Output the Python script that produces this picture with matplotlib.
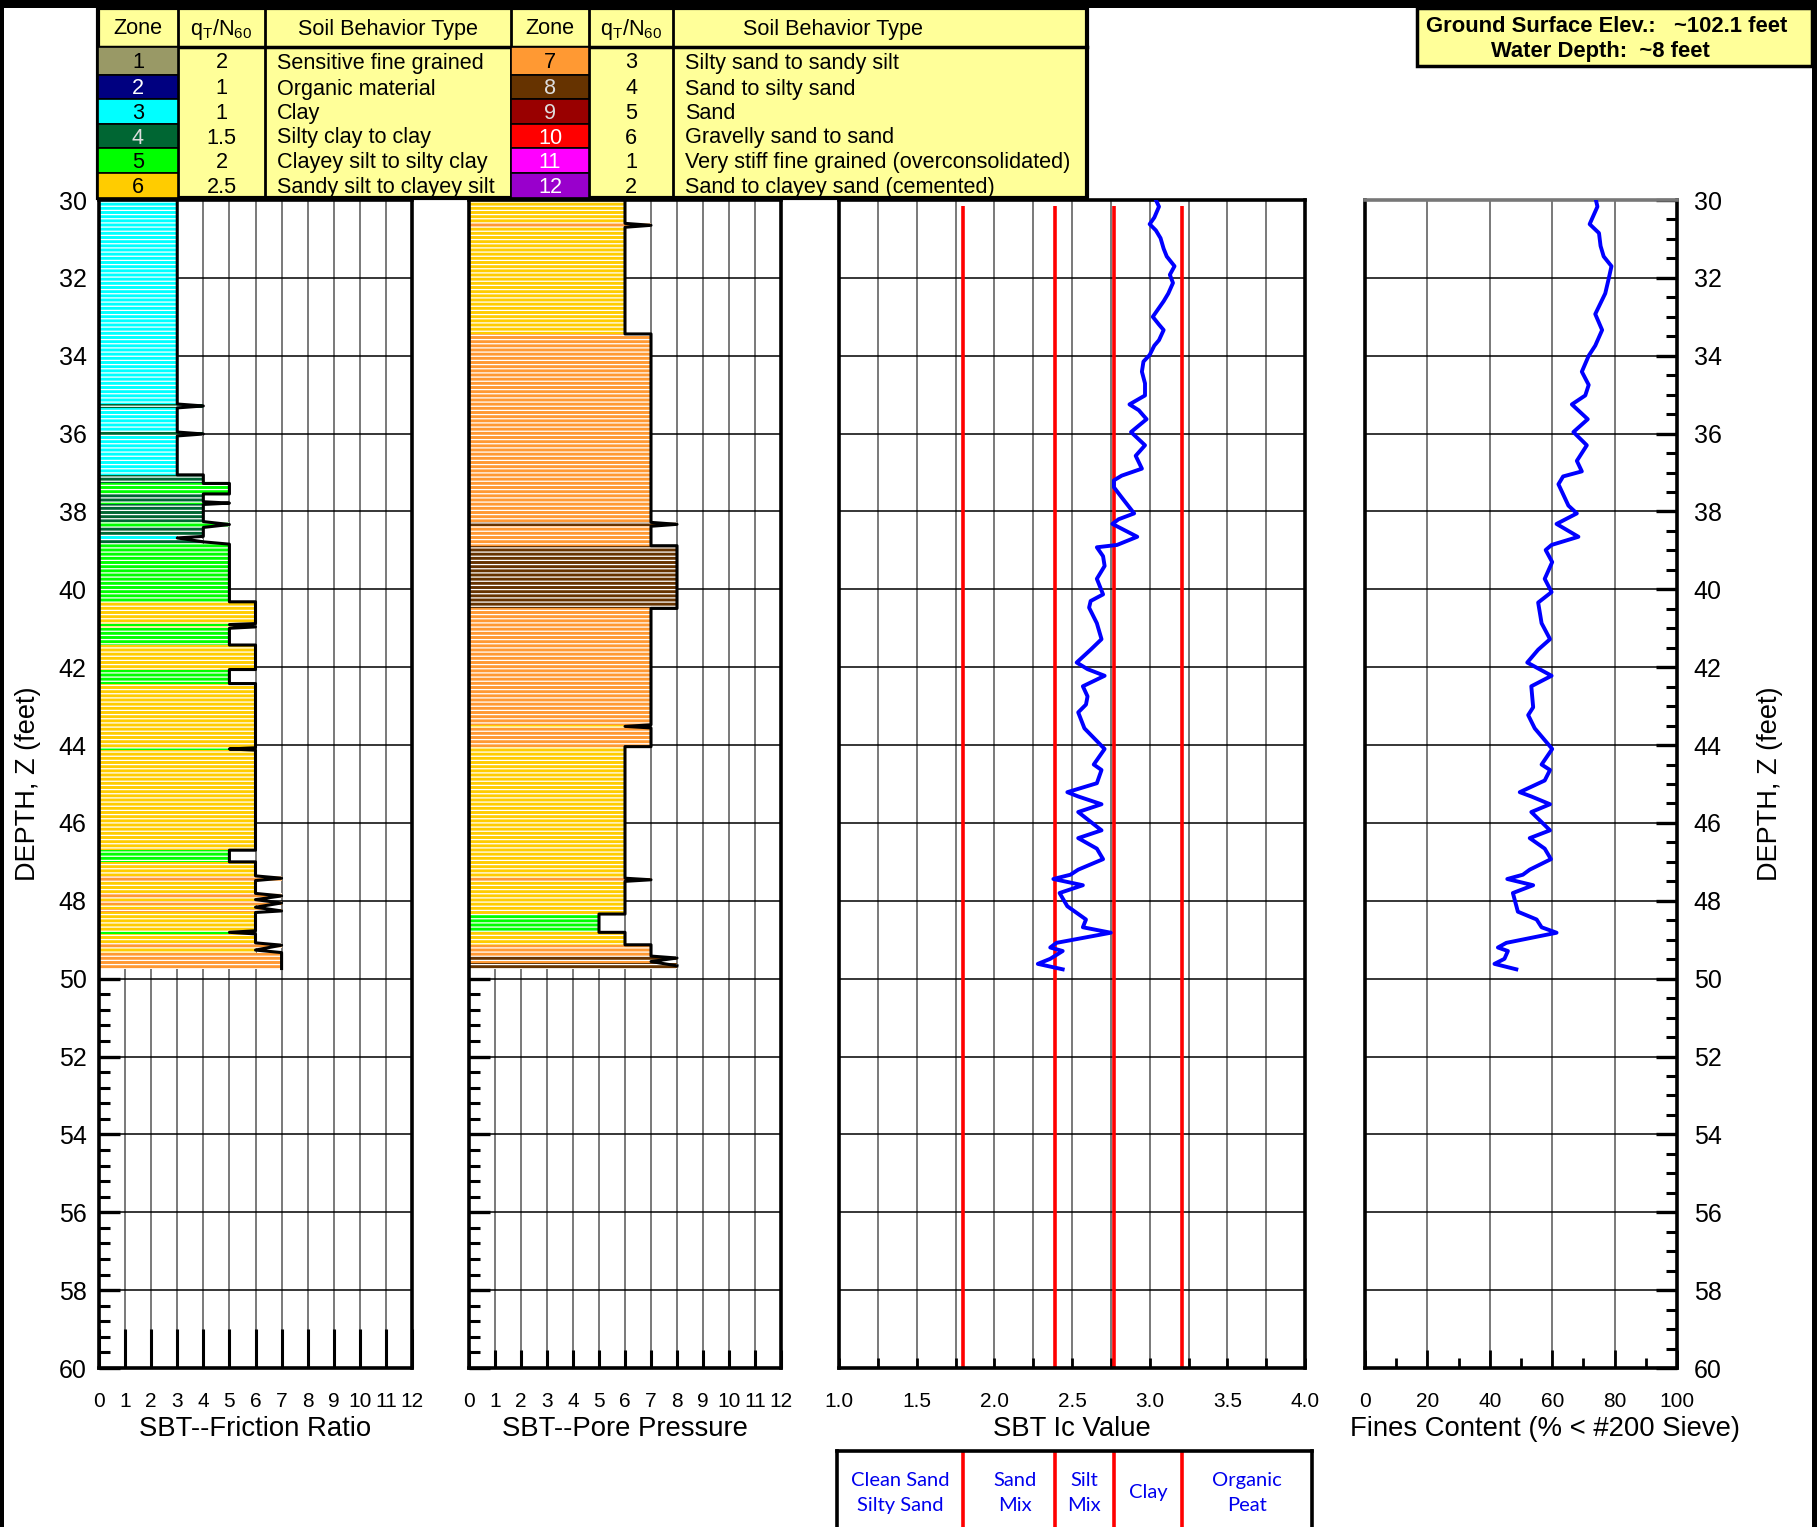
import numpy as np
import matplotlib
matplotlib.use('Agg')
import matplotlib.pyplot as plt
from matplotlib.patches import Rectangle
from matplotlib.ticker import MultipleLocator

plt.rcParams['font.family'] = ['Liberation Sans', 'DejaVu Sans']
plt.rcParams['hatch.linewidth'] = 0.9
plt.rcParams['hatch.color'] = 'white'

W, H = 1817, 1527

# SBT zone legend
zone_colors = {1: '#999966', 2: '#000080', 3: '#00FFFF', 4: '#006633',
               5: '#00FF00', 6: '#FFCC00', 7: '#FF9933', 8: '#663300',
               9: '#990000', 10: '#FF0000', 11: '#FF00FF', 12: '#9900CC'}
zone_text_colors = {1: 'black', 2: 'white', 3: 'black', 4: '#dddddd',
                    5: 'black', 6: 'black', 7: 'black', 8: '#dddddd',
                    9: '#dddddd', 10: 'white', 11: 'white', 12: 'white'}
zones_left = [1, 2, 3, 4, 5, 6]
qn_left = ['2', '1', '1', '1.5', '2', '2.5']
sbt_left = ['Sensitive fine grained', 'Organic material', 'Clay',
            'Silty clay to clay', 'Clayey silt to silty clay',
            'Sandy silt to clayey silt']
zones_right = [7, 8, 9, 10, 11, 12]
qn_right = ['3', '4', '5', '6', '1', '2']
sbt_right = ['Silty sand to sandy silt', 'Sand to silty sand', 'Sand',
             'Gravelly sand to sand', 'Very stiff fine grained (overconsolidated)',
             'Sand to clayey sand (cemented)']

# SBT from friction ratio: layer tops (ft) and zone
fr_tops = [30.0, 35.24, 35.34, 35.96, 36.06, 37.06, 37.28, 37.55, 37.75, 37.82,
           38.26, 38.41, 38.64, 38.72, 38.84, 40.32, 40.88, 40.93, 41.0, 41.43,
           42.06, 42.42, 44.07, 44.13, 46.70, 47.0, 47.36, 47.48, 47.81, 47.94,
           48.0, 48.11, 48.22, 48.30, 48.77, 48.85, 49.08, 49.20, 49.33]
fr_zones = [3, 4, 3, 4, 3, 4, 5, 4, 5, 4,
            5, 4, 3, 4, 5, 6, 5, 6, 5, 6,
            5, 6, 5, 6, 5, 6, 7, 6, 7, 6,
            7, 6, 7, 6, 5, 6, 7, 6, 7]
fr_base = 49.74

# SBT from pore pressure: layer tops (ft) and zone
pp_tops = [30.0, 30.6, 30.7, 33.44, 38.28, 38.38, 38.88, 40.49, 43.48, 43.56,
           44.04, 47.42, 47.50, 48.34, 48.81, 49.13, 49.42, 49.52, 49.60]
pp_zones = [6, 7, 6, 7, 8, 7, 8, 7, 6, 7,
            6, 7, 6, 5, 6, 7, 8, 7, 8]
pp_base = 49.74

# SBT Ic profile
ic_depth = [30.00, 30.17, 30.45, 30.62, 30.78, 30.98, 31.25, 31.45, 31.70, 31.92,
            32.13, 32.40, 32.60, 33.00, 33.20, 33.34, 33.60, 33.74, 33.98, 34.15,
            34.41, 34.71, 35.02, 35.25, 35.40, 35.63, 35.96, 36.30, 36.57, 36.90,
            37.08, 37.20, 37.38, 37.64, 38.05, 38.20, 38.32, 38.65, 38.86, 38.92,
            39.15, 39.40, 39.73, 40.13, 40.30, 40.47, 40.87, 41.28, 41.55, 41.88,
            42.05, 42.22, 42.49, 42.75, 42.96, 43.16, 43.57, 44.10, 44.50, 44.64,
            44.98, 45.21, 45.32, 45.52, 45.72, 46.19, 46.39, 46.66, 46.93, 47.20,
            47.33, 47.44, 47.60, 47.80, 48.14, 48.48, 48.68, 48.82, 49.08, 49.20,
            49.29, 49.49, 49.62, 49.76]
ic_value = [3.04, 3.06, 3.03, 3.00, 3.04, 3.07, 3.09, 3.11, 3.16, 3.13,
            3.15, 3.12, 3.09, 3.02, 3.06, 3.09, 3.06, 3.03, 3.00, 2.96,
            2.95, 2.97, 2.97, 2.87, 2.93, 2.98, 2.88, 2.97, 2.91, 2.95,
            2.82, 2.77, 2.77, 2.82, 2.90, 2.80, 2.76, 2.92, 2.79, 2.66,
            2.70, 2.71, 2.66, 2.70, 2.62, 2.61, 2.66, 2.69, 2.62, 2.53,
            2.60, 2.71, 2.57, 2.60, 2.59, 2.54, 2.58, 2.71, 2.64, 2.69,
            2.66, 2.47, 2.54, 2.69, 2.54, 2.69, 2.54, 2.66, 2.70, 2.54,
            2.49, 2.38, 2.57, 2.42, 2.47, 2.59, 2.57, 2.75, 2.40, 2.36,
            2.44, 2.36, 2.28, 2.44]

# Fines content profile
fc_depth = [30.00, 30.17, 30.62, 30.85, 31.18, 31.45, 31.70, 32.06, 32.40, 32.93,
            33.34, 33.74, 34.00, 34.41, 34.75, 35.02, 35.25, 35.63, 35.96, 36.30,
            36.70, 36.97, 37.10, 37.30, 37.85, 38.05, 38.32, 38.65, 38.86, 38.99,
            39.30, 39.73, 40.07, 40.34, 40.87, 41.28, 41.55, 41.88, 42.22, 42.49,
            43.03, 43.23, 43.57, 44.10, 44.50, 44.64, 44.91, 45.21, 45.32, 45.52,
            45.72, 46.19, 46.39, 46.66, 46.93, 47.20, 47.33, 47.44, 47.60, 47.80,
            48.28, 48.48, 48.68, 48.82, 49.08, 49.20, 49.29, 49.49, 49.62, 49.76]
fc_value = [74.0, 74.5, 72.0, 75.0, 75.5, 76.5, 79.0, 78.0, 77.0, 73.8,
            76.0, 73.8, 71.7, 69.5, 71.7, 70.6, 66.3, 71.4, 66.8, 71.1,
            67.9, 69.5, 63.5, 62.0, 65.2, 67.9, 61.4, 68.4, 59.8, 57.9,
            60.0, 57.6, 59.8, 55.5, 56.6, 59.3, 55.5, 52.0, 59.8, 53.3,
            53.9, 52.3, 54.4, 60.0, 56.6, 59.3, 57.6, 49.6, 53.3, 59.3,
            53.3, 59.3, 52.8, 57.6, 59.6, 52.8, 50.6, 45.6, 53.9, 47.4,
            49.0, 55.0, 56.6, 61.4, 45.3, 42.6, 45.8, 44.7, 41.5, 48.5]

# Ic class boundaries
ic_bounds = [1.80, 2.39, 2.77, 3.21]
ic_classes = ['Clean Sand\nSilty Sand', 'Sand\nMix', 'Silt\nMix', 'Clay', 'Organic\nPeat']

depth_ticks = list(range(30, 61, 2))


def box(x0, y0, x1, y1):
    return [x0 / W, 1 - y1 / H, (x1 - x0) / W, (y1 - y0) / H]


fig = plt.figure(figsize=(W / 100, H / 100), dpi=100)

# background layer in pixel coordinates for frame, legend and labels
bg = fig.add_axes([0, 0, 1, 1])
bg.set_xlim(0, W)
bg.set_ylim(H, 0)
bg.axis('off')
for r in [(0, 0, W, 8), (0, 0, 4, H), (1812, 0, 5, H)]:
    bg.add_patch(Rectangle(r[:2], r[2], r[3], color='black', lw=0))

# zone legend table
col_x = [98, 178, 265, 511, 589, 673, 1087]
row_y = [47, 75, 99, 124, 148, 173, 198]
fs_tab = 15.6
bg.add_patch(Rectangle((col_x[0], 8), col_x[-1] - col_x[0], 190,
                       facecolor='#FFFF99', edgecolor='black', lw=3, zorder=2))
bg.plot([col_x[0], col_x[-1]], [row_y[0], row_y[0]], color='black', lw=2.5, zorder=3)
for x in col_x[1:-1]:
    bg.plot([x, x], [8, 198], color='black', lw=2, zorder=3)
hdr = ['Zone', r'q$_\mathregular{T}$/N$_\mathregular{60}$', 'Soil Behavior Type']
hdr_x = [(col_x[0] + col_x[1]) / 2, (col_x[1] + col_x[2]) / 2, (col_x[2] + col_x[3]) / 2,
         (col_x[3] + col_x[4]) / 2, (col_x[4] + col_x[5]) / 2, 833]
for j in range(6):
    bg.text(hdr_x[j], 29, hdr[j % 3], ha='center', va='center', fontsize=fs_tab, zorder=4)
for side, (zs, qs, names) in enumerate([(zones_left, qn_left, sbt_left),
                                        (zones_right, qn_right, sbt_right)]):
    c0 = side * 3
    for i, z in enumerate(zs):
        y0, y1 = row_y[i], row_y[i + 1]
        yc = (y0 + y1) / 2 + 2
        bg.add_patch(Rectangle((col_x[c0], y0), col_x[c0 + 1] - col_x[c0], y1 - y0,
                               facecolor=zone_colors[z], edgecolor='black', lw=1.2, zorder=3))
        bg.text((col_x[c0] + col_x[c0 + 1]) / 2, yc, str(z), ha='center', va='center',
                fontsize=fs_tab, color=zone_text_colors[z], zorder=4)
        bg.text((col_x[c0 + 1] + col_x[c0 + 2]) / 2, yc, qs[i], ha='center', va='center',
                fontsize=fs_tab, zorder=4)
        bg.text(col_x[c0 + 2] + 12, yc, names[i], ha='left', va='center',
                fontsize=fs_tab, zorder=4)

# site info box
bg.add_patch(Rectangle((1417, 8), 395, 58, facecolor='#FFFF99', edgecolor='black',
                       lw=2.5, zorder=2))
bg.text(1607, 26, 'Ground Surface Elev.:   ~102.1 feet', ha='center', va='center',
        fontsize=15.8, fontweight='bold', zorder=4)
bg.text(1600, 51, 'Water Depth:  ~8 feet', ha='center', va='center',
        fontsize=15.8, fontweight='bold', zorder=4)

# axis titles
fs_title = 19.8
bg.text(255, 1429, 'SBT--Friction Ratio', ha='center', va='center', fontsize=fs_title)
bg.text(625, 1429, 'SBT--Pore Pressure', ha='center', va='center', fontsize=fs_title)
bg.text(1072, 1429, 'SBT Ic Value', ha='center', va='center', fontsize=fs_title)
bg.text(1545, 1429, 'Fines Content (% < #200 Sieve)', ha='center', va='center',
        fontsize=fs_title)
bg.text(28, 784, 'DEPTH, Z (feet)', ha='center', va='center', rotation=90, fontsize=19.5)
bg.text(1770, 784, 'DEPTH, Z (feet)', ha='center', va='center', rotation=90, fontsize=19.5)

ax1 = fig.add_axes(box(99, 200, 412, 1368))
ax2 = fig.add_axes(box(469, 200, 781, 1368))
ax3 = fig.add_axes(box(839, 200, 1305, 1368))
ax4 = fig.add_axes(box(1365, 200, 1677, 1368))

fs_xtick = 15
xpad = 17


def style_depth_axis(ax):
    ax.set_ylim(60, 30)
    ax.set_yticks(depth_ticks)
    ax.set_axisbelow(True)
    ax.grid(axis='y', color='black', lw=1.1)
    for s in ax.spines.values():
        s.set_linewidth(2.6)
        s.set_color('black')


def zone_panel(ax, tops, zones, base, tick_len):
    style_depth_axis(ax)
    ax.set_xlim(0, 12)
    ax.set_xticks(range(13))
    ax.grid(axis='x', color='#555555', lw=1.1)
    bots = tops[1:] + [base]
    xs, ys = [], []
    for t, b, z in zip(tops, bots, zones):
        ax.barh((t + b) / 2, z, height=b - t, color=zone_colors[z],
                edgecolor='white', linewidth=0, hatch='----', zorder=1)
        # thin layers show up as a pointed spike on the outline
        if b - t < 0.15:
            xs.append(z)
            ys.append((t + b) / 2)
        else:
            xs += [z, z]
            ys += [t, b]
    ax.plot(xs, ys, color='black', lw=2.2, zorder=2)
    ax.tick_params(axis='x', direction='in', length=tick_len, width=2.2,
                   labelsize=fs_xtick, pad=xpad)
    ax.yaxis.set_minor_locator(MultipleLocator(0.4))
    ax.tick_params(axis='y', which='major', direction='in', length=15, width=2.4)
    ax.tick_params(axis='y', which='minor', direction='in', length=8, width=2.2)


zone_panel(ax1, fr_tops, fr_zones, fr_base, 28)
ax1.tick_params(axis='y', labelsize=18, pad=9)
zone_panel(ax2, pp_tops, pp_zones, pp_base, 13)
ax2.tick_params(axis='y', labelleft=False)

# Ic panel
style_depth_axis(ax3)
ax3.set_xlim(1, 4)
ax3.set_xticks(np.arange(1.0, 4.01, 0.5))
ax3.set_xticklabels([f'{v:.1f}' for v in np.arange(1.0, 4.01, 0.5)])
ax3.xaxis.set_minor_locator(MultipleLocator(0.25))
ax3.grid(axis='x', which='both', color='#555555', lw=1.1)
ax3.vlines(ic_bounds, 30.15, 60, color='red', lw=2.6, zorder=2)
ax3.plot(ic_value, ic_depth, color='#0000FF', lw=2.8, zorder=3)
ax3.tick_params(axis='x', which='both', direction='in', length=7, width=2,
                labelsize=fs_xtick, pad=xpad)
ax3.tick_params(axis='y', left=False, labelleft=False)

# fines content panel
style_depth_axis(ax4)
ax4.set_xlim(0, 100)
ax4.set_xticks(range(0, 101, 20))
ax4.xaxis.set_minor_locator(MultipleLocator(10))
ax4.grid(axis='x', color='#555555', lw=1.1)
ax4.plot(fc_value, fc_depth, color='#0000FF', lw=2.8, zorder=3)
ax4.spines['top'].set_color('#777777')
ax4.tick_params(axis='x', which='major', direction='in', length=13, width=2,
                labelsize=fs_xtick, pad=xpad)
ax4.tick_params(axis='x', which='minor', direction='in', length=7, width=2)
ax4.yaxis.set_minor_locator(MultipleLocator(0.5))
ax4.tick_params(axis='y', which='both', left=False, labelleft=False,
                right=True, labelright=True, direction='in')
ax4.tick_params(axis='y', which='major', length=15, width=2.4, labelsize=18, pad=12)
ax4.tick_params(axis='y', which='minor', length=8, width=2.2)

# Ic classification strip
axc = fig.add_axes(box(837, 1451, 1312, 1540))
axc.set_xlim(1 + (837 - 839) / 155.33, 1 + (1312 - 839) / 155.33)
axc.set_ylim(0, 1)
axc.set_xticks([])
axc.set_yticks([])
axc.spines['bottom'].set_visible(False)
for s in ['top', 'left', 'right']:
    axc.spines[s].set_linewidth(2.6)
axc.vlines(ic_bounds, 0, 1, color='red', lw=2.6)
edges = [axc.get_xlim()[0]] + ic_bounds + [axc.get_xlim()[1]]
label_shift = [0.0, 0.04, 0.0, 0.0, 0.0]
for k, name in enumerate(ic_classes):
    axc.text((edges[k] + edges[k + 1]) / 2 + label_shift[k], 0.53, name,
             ha='center', va='center', fontsize=14.5, color='#0000EE',
             linespacing=1.55, family=['Lato', 'DejaVu Sans'])

fig.savefig('out.png', dpi=100)
